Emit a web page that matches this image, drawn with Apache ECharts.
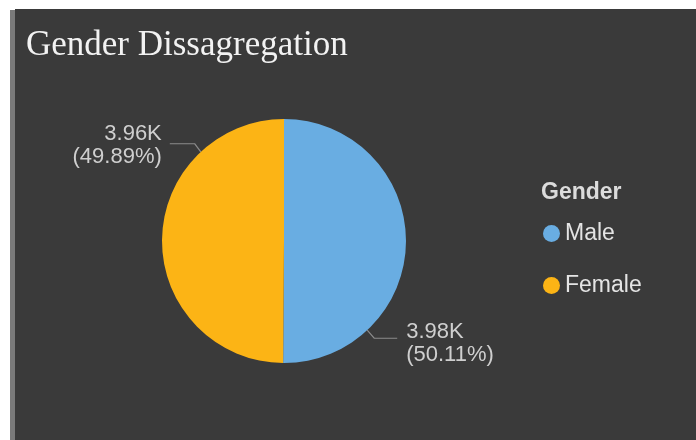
<!DOCTYPE html>
<html>
<head>
<meta charset="utf-8">
<style>
  html, body { margin: 0; padding: 0; background: #ffffff; }
  #chart { width: 696px; height: 440px; }
</style>
<script src="https://cdn.jsdelivr.net/npm/echarts@6/dist/echarts.min.js"></script>
</head>
<body>
<div id="chart"></div>
<script>
// Gender breakdown
const categories = ['Male', 'Female'];
const counts = [3976, 3958];
const sliceColors = ['#69ade2', '#fcb415'];

// pie geometry
const CX = 284, CY = 241, R = 122;
// angle (degrees, counter-clockwise from +x) where each label line leaves the pie
const anchorAngles = [-47, 133];

const chart = echarts.init(document.getElementById('chart'), null, { renderer: 'canvas' });

function fmtK(v) { return (v / 1000).toFixed(2) + 'K'; }

chart.setOption({
  backgroundColor: '#ffffff',
  animation: false,
  graphic: [
    { type: 'rect', z: -10, shape: { x: 15, y: 9, width: 681, height: 431 }, style: { fill: '#3a3a3a' } },
    { type: 'rect', z: -10, shape: { x: 10, y: 10, width: 5, height: 430 }, style: { fill: '#7a7a7a' } }
  ],
  title: [
    {
      text: 'Gender Dissagregation',
      left: 21, top: 23,
      textStyle: { fontFamily: 'Liberation Serif', fontSize: 35, fontWeight: 'normal', color: '#f2f2f2' }
    },
    {
      text: 'Gender',
      left: 536, top: 176,
      textStyle: { fontFamily: 'Liberation Sans', fontSize: 23, fontWeight: 'bold', color: '#dcdcdc' }
    }
  ],
  legend: {
    orient: 'vertical',
    left: 538, top: 217,
    icon: 'circle',
    itemWidth: 17, itemHeight: 17,
    itemGap: 29,
    textStyle: { fontFamily: 'Liberation Sans', fontSize: 23, color: '#e4e4e4' },
    data: categories
  },
  series: [{
    type: 'pie',
    center: [CX, CY],
    radius: R,
    startAngle: 90,
    clockwise: true,
    color: sliceColors,
    itemStyle: { borderWidth: 0 },
    label: {
      show: true,
      position: 'outside',
      fontFamily: 'Liberation Sans',
      fontSize: 22,
      lineHeight: 23,
      color: '#cfcfcf',
      formatter: p => fmtK(p.value) + '\n(' + p.percent.toFixed(2) + '%)'
    },
    labelLine: { show: true, lineStyle: { color: '#8c8c8c', width: 1.2 } },
    labelLayout: function (params) {
      const i = params.dataIndex;
      const a = anchorAngles[i] * Math.PI / 180;
      const p0 = [CX + R * Math.cos(a), CY - R * Math.sin(a)];
      const right = Math.cos(a) > 0;
      const dy = Math.sin(a) > 0 ? -8 : 8;
      const p1 = [p0[0] + (right ? 7 : -6), p0[1] + dy];
      const p2 = [p1[0] + (right ? 23 : -25), p1[1]];
      return {
        x: p2[0] + (right ? 9 : -8),
        y: p2[1] + (right ? 5 : 2),
        align: right ? 'left' : 'right',
        verticalAlign: 'middle',
        labelLinePoints: [p0, p1, p2]
      };
    },
    data: categories.map((name, i) => ({ name, value: counts[i] }))
  }]
});
</script>
</body>
</html>
